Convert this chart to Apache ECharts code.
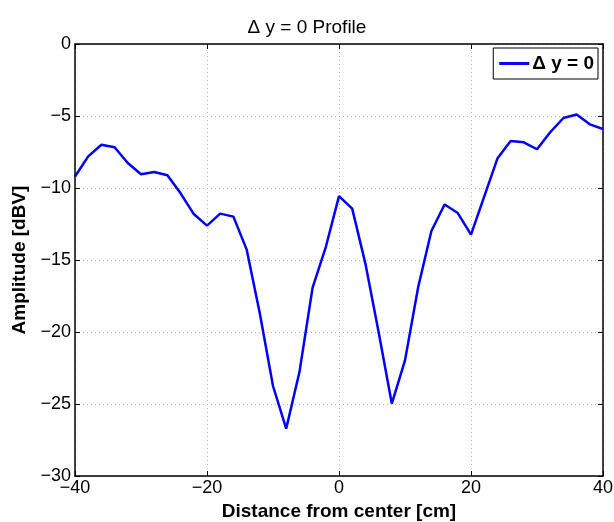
<!DOCTYPE html>
<html>
<head>
<meta charset="utf-8">
<script src="https://cdn.jsdelivr.net/npm/echarts@6/dist/echarts.min.js"></script>
<style>
  html, body { margin: 0; padding: 0; background: #fff; }
  #chart { width: 614px; height: 522px; }
</style>
</head>
<body>
<div id="chart"></div>
<script>
var distance = [-40, -38, -36, -34, -32, -30, -28, -26, -24, -22, -20, -18, -16, -14, -12, -10, -8, -6, -4, -2,
  0, 2, 4, 6, 8, 10, 12, 14, 16, 18, 20, 22, 24, 26, 28, 30, 32, 34, 36, 38, 40];
var amplitude = [-9.2, -7.8, -7.0, -7.17, -8.26, -9.05, -8.89, -9.12, -10.37, -11.81, -12.61, -11.78, -11.99, -14.26, -18.7, -23.75, -26.71, -22.8, -16.92, -14.1,
  -10.56, -11.43, -15.25, -20.0, -24.97, -21.97, -16.88, -12.99, -11.15, -11.74, -13.24, -10.6, -7.96, -6.74, -6.83, -7.31, -6.13, -5.14, -4.9, -5.58, -5.9];
var seriesName = 'Δ y = 0';

var font = 'Liberation Sans, Arial, Helvetica, sans-serif';

var points = [];
for (var i = 0; i < distance.length; i++) {
  points.push([distance[i], amplitude[i]]);
}

function minusLabel(v) {
  return v < 0 ? '\u2212' + (-v) : '' + v;
}

var gridLine = { show: true, lineStyle: { color: '#b4b4b4', type: [1, 3], width: 1 } };
var tick = { show: true, inside: true, length: 5, lineStyle: { color: '#000' } };
var frame = { show: true, onZero: false, lineStyle: { color: '#000', width: 1.5 } };

var chart = echarts.init(document.getElementById('chart'), null, { renderer: 'canvas' });
chart.setOption({
  backgroundColor: '#ffffff',
  animation: false,
  title: {
    text: 'Δ y = 0 Profile',
    left: 'center',
    top: 13,
    textStyle: { fontFamily: font, fontSize: 19, fontWeight: 'normal', color: '#000' }
  },
  legend: {
    data: [{ name: seriesName, icon: 'rect' }],
    right: 16,
    top: 48,
    backgroundColor: '#fff',
    borderColor: '#000',
    borderWidth: 1,
    borderRadius: 0,
    padding: [6, 4, 6, 6],
    itemWidth: 30,
    itemHeight: 3,
    itemGap: 2,
    textStyle: { fontFamily: font, fontSize: 19, fontWeight: 'bold', color: '#000', padding: [0, 0, 0, -2] }
  },
  grid: {
    left: 75,
    right: 11,
    top: 44,
    bottom: 46,
    containLabel: false,
    outerBoundsMode: 'none'
  },
  xAxis: [{
    type: 'value',
    min: -40,
    max: 40,
    interval: 20,
    name: 'Distance from center [cm]',
    nameLocation: 'middle',
    nameGap: 25,
    nameTextStyle: { fontFamily: font, fontSize: 19, fontWeight: 'bold', color: '#000' },
    axisLine: frame,
    axisTick: tick,
    axisLabel: { fontFamily: font, fontSize: 18, color: '#000', margin: 3, formatter: minusLabel },
    splitLine: gridLine
  }, {
    type: 'value',
    position: 'top',
    min: -40,
    max: 40,
    interval: 20,
    axisLine: frame,
    axisTick: tick,
    axisLabel: { show: false },
    splitLine: { show: false }
  }],
  yAxis: [{
    type: 'value',
    min: -30,
    max: 0,
    interval: 5,
    name: 'Amplitude [dBV]',
    nameLocation: 'middle',
    nameGap: 40,
    nameTextStyle: { fontFamily: font, fontSize: 19, fontWeight: 'bold', color: '#000' },
    axisLine: frame,
    axisTick: tick,
    axisLabel: { fontFamily: font, fontSize: 18, color: '#000', margin: 4, formatter: minusLabel },
    splitLine: gridLine
  }, {
    type: 'value',
    position: 'right',
    min: -30,
    max: 0,
    interval: 5,
    axisLine: frame,
    axisTick: tick,
    axisLabel: { show: false },
    splitLine: { show: false }
  }],
  series: [{
    name: seriesName,
    type: 'line',
    data: points,
    symbol: 'none',
    clip: true,
    lineStyle: { color: '#0000ff', width: 2.5 },
    itemStyle: { color: '#0000ff' }
  }]
});
</script>
</body>
</html>
